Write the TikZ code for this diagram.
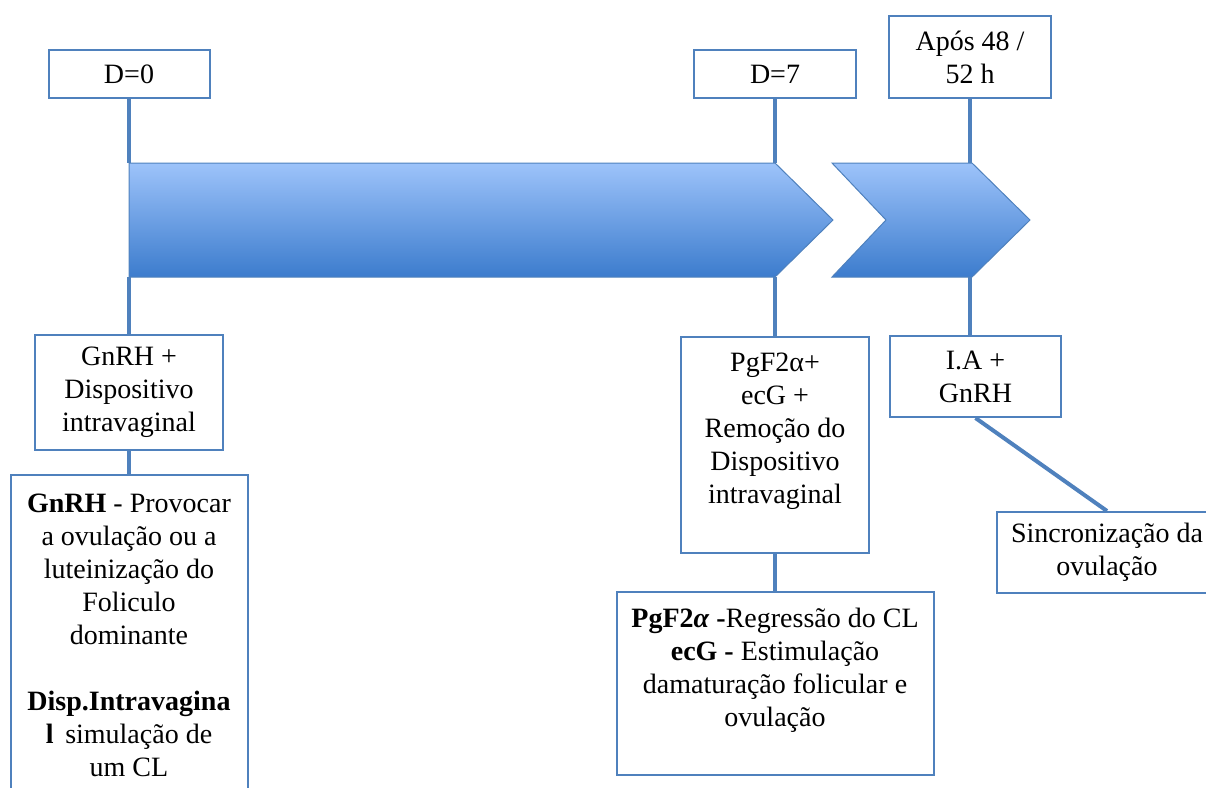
\documentclass[tikz,border=0pt]{standalone}
\usepackage{fontspec}
\setmainfont{Liberation Serif}
\definecolor{tlline}{RGB}{79,129,189}
\definecolor{tltop}{RGB}{157,195,250}
\definecolor{tlbottom}{RGB}{60,124,205}
\tikzset{every picture/.style={line width=0.75pt}}
\tikzset{
  tlbox/.style={draw=tlline, line width=2pt, fill=white, align=center, inner sep=4pt,
    font=\fontsize{28}{33}\selectfont},
  tllink/.style={draw=tlline, line width=4pt},
  tlarrow/.style={draw=tlline, line width=1pt, top color=tltop, bottom color=tlbottom}
}
\begin{document}
\begin{tikzpicture}[x=1pt,y=1pt,yscale=-1,xscale=1]
\path[use as bounding box, clip] (0,0) rectangle (1206,787);

%Shape: Chevron [id:arrow1]
\draw[tlarrow] (129,163) -- (775,163) -- (833,220) -- (775,277) -- (129,277) -- cycle;
%Shape: Chevron [id:arrow2]
\draw[tlarrow] (832,163) -- (972,163) -- (1030,220) -- (972,277) -- (832,277) -- (886,220) -- cycle;
\coordinate (a0t) at (129,163);
\coordinate (a0b) at (129,277);
\coordinate (a1t) at (775,163);
\coordinate (a1b) at (775,277);
\coordinate (a2t) at (970,163);
\coordinate (a2b) at (970,277);

% Text Node
\node[tlbox, minimum width=161, minimum height=48] (d0) at (129,74) {D=0};
% Text Node
\node[tlbox, minimum width=162, minimum height=48] (d7) at (775,74) {D=7};
% Text Node
\node[tlbox, minimum width=162, minimum height=82] (apos) at (970,57) {Após 48 /\\52 h};
% Text Node
\node[tlbox, minimum width=188, minimum height=115] (gnrh) at (129,392.5) {GnRH +\\Dispositivo\\intravaginal};
% Text Node
\node[tlbox, minimum width=237, minimum height=354] (gnrhx) at (129,652) {\textbf{GnRH} - Provocar\\a ovulação ou a\\luteinização do\\Foliculo\\dominante\\[33pt]\textbf{Disp.Intravagina}\\\textbf{l}\, simulação de\\um CL\\\mbox{}};
% Text Node
\node[tlbox, minimum width=188, minimum height=216] (pg) at (775,445) {PgF2α+\\ecG +\\Remoção do\\Dispositivo\\intravaginal\\\mbox{}};
% Text Node
\node[tlbox, minimum width=317, minimum height=183] (pgx) at (775,683.5) {\textbf{PgF2\textit{α} -}Regressão do CL\\\textbf{ecG -} Estimulação\\damaturação folicular e\\ovulação\\\mbox{}};
% Text Node
\node[tlbox, minimum width=171, minimum height=81] (ia) at (975.5,376.5) {I.A +\\GnRH};
% Text Node
\node[tlbox, minimum width=220, minimum height=81] (sync) at (1107,552.5) {Sincronização da\\ovulação};

%Straight Lines
\draw[tllink] (d0.south) -- (a0t);
\draw[tllink] (a0b) -- (gnrh.north);
\draw[tllink] (gnrh.south) -- (gnrhx.north);
\draw[tllink] (d7.south) -- (a1t);
\draw[tllink] (a1b) -- (pg.north);
\draw[tllink] (pg.south) -- (pgx.north);
\draw[tllink] (apos.south) -- (a2t);
\draw[tllink] (a2b) -- (a2b |- ia.north);
\draw[tllink] (ia.south) -- (sync.north);

\end{tikzpicture}
\end{document}
